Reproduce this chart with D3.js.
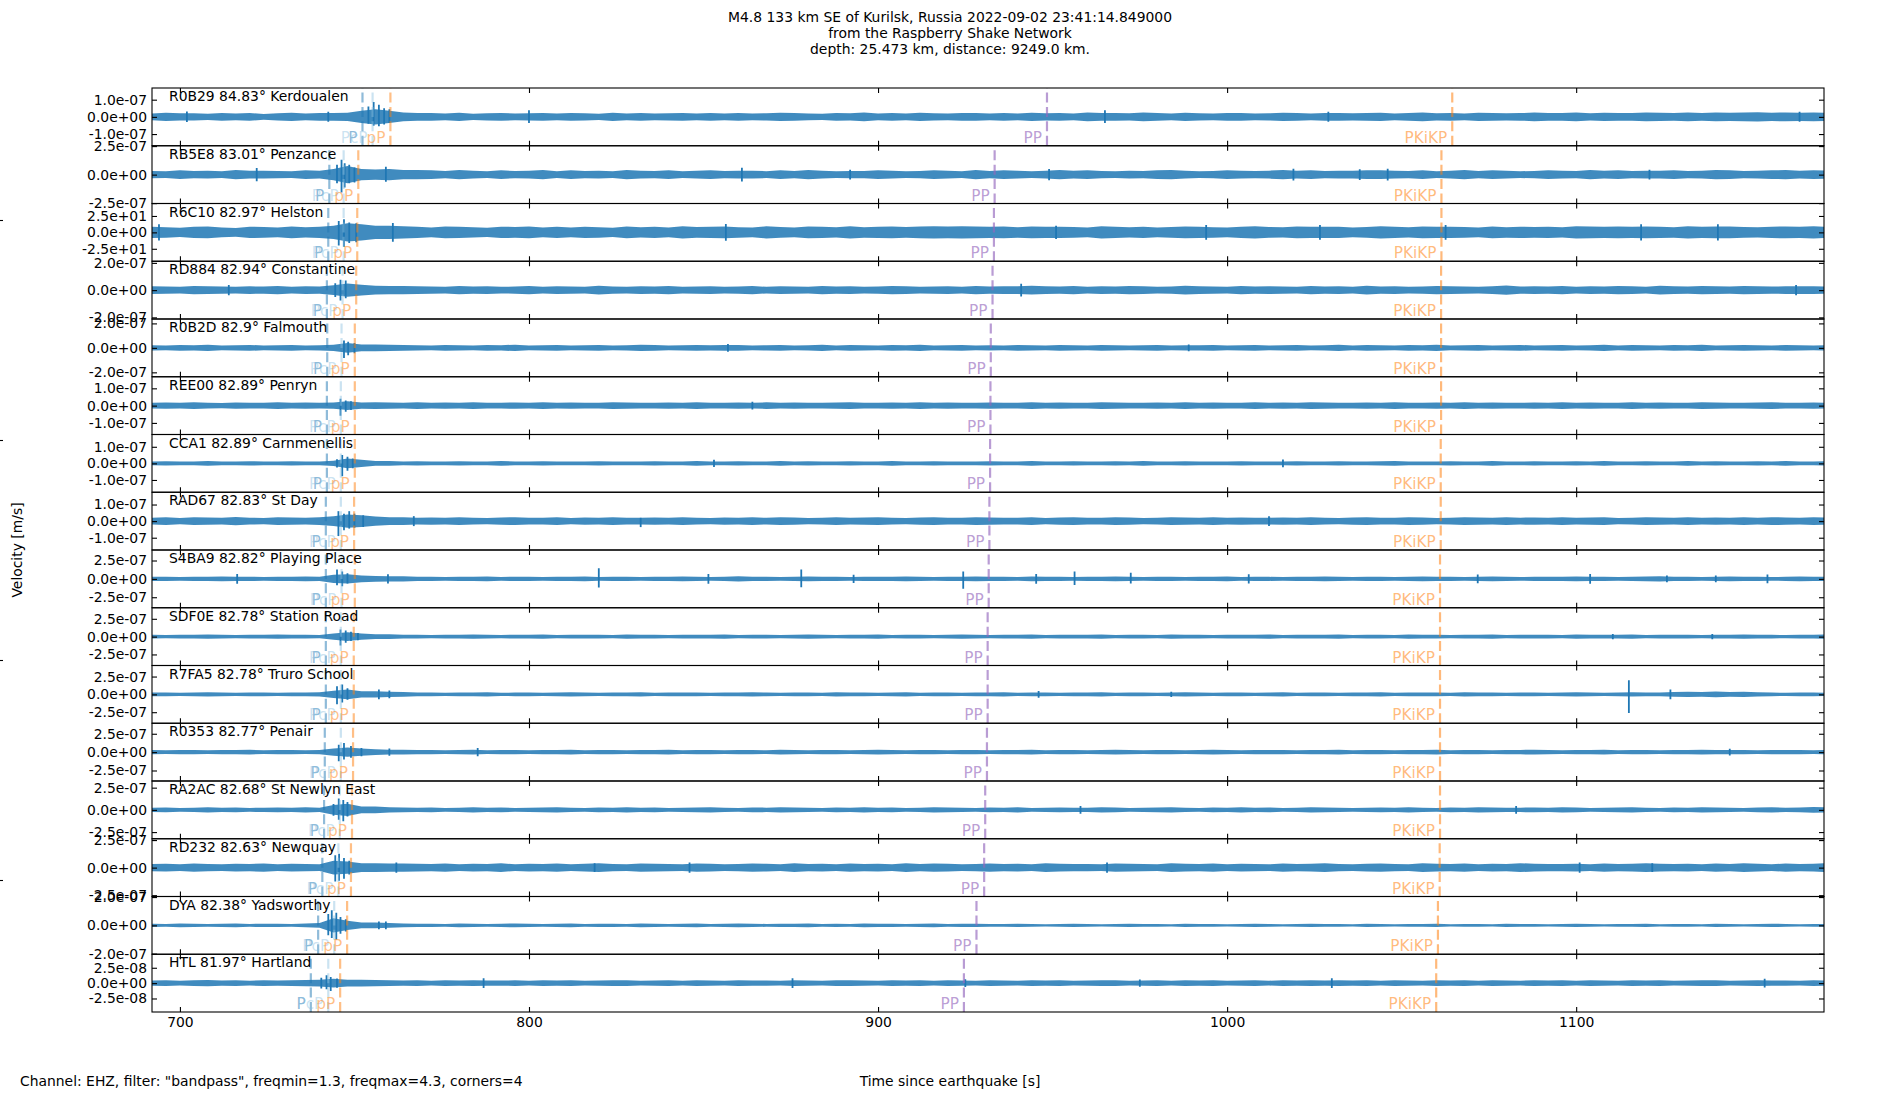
<!DOCTYPE html>
<html><head><meta charset="utf-8">
<script src="https://cdn.jsdelivr.net/npm/d3@7"></script>
<style>body{margin:0;background:#fff}svg{display:block}</style>
</head><body>
<svg id="chart" width="1900" height="1100"></svg>
<script>
// ---------------- DATA ----------------
const titleLines = [
  "M4.8 133 km SE of Kurilsk, Russia 2022-09-02 23:41:14.849000",
  "from the Raspberry Shake Network",
  "depth: 25.473 km, distance: 9249.0 km."
];
const xLabel = "Time since earthquake [s]";
const yLabel = "Velocity [m/s]";
const footNote = 'Channel: EHZ, filter: "bandpass", freqmin=1.3, freqmax=4.3, corners=4';
const xDomain = [692, 1171];
const xTicks = [700, 800, 900, 1000, 1100];

const stations = [
  "R0B29 84.83° Kerdoualen", "RB5E8 83.01° Penzance", "R6C10 82.97° Helston",
  "RD884 82.94° Constantine", "R0B2D 82.9° Falmouth", "REE00 82.89° Penryn",
  "CCA1 82.89° Carnmenellis", "RAD67 82.83° St Day", "S4BA9 82.82° Playing Place",
  "SDF0E 82.78° Station Road", "R7FA5 82.78° Truro School", "R0353 82.77° Penair",
  "RA2AC 82.68° St Newlyn East", "RD232 82.63° Newquay", "DYA 82.38° Yadsworthy",
  "HTL 81.97° Hartland"
];
// symmetric y-limit of each panel (data units)
const yLimits = [1.68e-7, 2.53e-7, 44, 2.12e-7, 2.36e-7, 1.67e-7, 1.74e-7, 1.74e-7,
                 3.93e-7, 4.05e-7, 4.05e-7, 3.93e-7, 3.25e-7, 2.62e-7, 2.04e-7, 4.7e-8];
// tick step of each panel (ticks at -step, 0, +step)
const tickSteps = [1e-7, 2.5e-7, 25, 2e-7, 2e-7, 1e-7, 1e-7, 1e-7,
                   2.5e-7, 2.5e-7, 2.5e-7, 2.5e-7, 2.5e-7, 2.5e-7, 2e-7, 2.5e-8];

// background noise envelopes: half-amplitude in hundredths of the panel tick step,
// one value every 4 s starting at 692 s
const binStart = 692, binStep = 4;
const amp01 = [
 20,24,21,21,18,22,19,23,17,21,24,19,22,22,24,35,45,35,25,22,
 22,19,24,18,21,23,20,21,22,19,23,21,18,24,20,22,19,21,23,20,
 22,20,23,19,21,24,22,20,18,23,21,25,20,22,19,24,21,20,23,22,
 20,23,19,24,21,22,20,26,22,23,21,25,22,20,24,21,19,23,22,20,
 21,24,22,20,22,23,21,22,24,20,23,25,21,22,20,24,23,21,22,25,
 23,22,25,21,24,22,23,26,24,22,25,23,26,24,25,27,24,26,24,25,24];
const amp02 = [
 13,12,15,13,14,12,16,14,14,13,12,15,14,20,30,20,18,20,16,16,
 15,13,16,14,12,15,13,14,16,12,15,13,14,12,16,14,13,15,12,14,
 15,13,14,14,12,15,13,16,14,12,13,13,15,14,12,13,15,14,12,16,
 13,15,14,12,14,16,14,15,13,12,14,13,15,16,14,12,13,15,14,13,
 14,16,14,15,13,14,14,15,15,14,13,15,12,14,16,13,15,14,12,13,
 15,14,13,16,14,15,13,14,14,15,13,14,16,15,13,14,15,16,14,15,14];
const amp03 = [
 34,32,28,35,36,30,26,34,33,29,36,31,34,40,55,50,40,40,38,34,
 30,36,34,31,28,35,33,36,30,34,29,35,32,28,36,31,34,30,38,33,
 35,36,32,29,37,33,30,36,34,31,38,32,35,36,33,36,38,36,38,36,
 34,36,32,36,35,34,33,30,37,34,31,35,29,33,36,34,32,30,34,37,
 33,31,36,35,34,34,30,33,37,35,31,36,34,35,33,30,36,32,35,33,
 34,31,37,36,35,36,35,36,34,32,38,35,36,36,33,31,35,36,34,37,33];
const amp04 = [
 14,13,12,15,14,13,12,14,13,15,12,14,13,18,24,20,16,15,15,14,
 13,12,15,13,14,12,13,15,12,14,13,12,16,13,12,14,13,15,12,13,
 14,12,13,15,12,14,13,12,15,13,14,12,13,15,14,12,13,14,12,15,
 13,14,14,16,14,13,15,12,14,13,15,14,12,13,16,14,13,12,15,13,
 14,13,12,15,13,14,12,16,13,14,12,13,15,14,13,12,14,17,13,14,
 13,15,12,14,13,15,14,12,16,14,13,15,14,13,15,14,13,14,14,14,13];
const amp05 = [
 11,10,12,11,13,10,11,12,10,11,12,10,11,13,20,14,14,13,12,11,
 10,12,11,10,12,11,13,10,11,12,10,11,12,10,11,13,12,10,11,12,
 11,12,12,10,11,12,10,11,13,10,12,11,10,12,11,13,10,11,12,10,
 11,10,12,11,10,12,11,10,12,11,10,11,12,10,11,11,12,10,11,12,
 10,11,12,10,11,13,10,12,11,10,12,11,13,10,11,12,10,11,12,10,
 11,12,10,11,13,10,12,11,10,12,11,13,10,11,12,11,10,12,11,10,11];
const amp06 = [
 17,18,16,19,17,15,18,17,16,19,17,18,16,18,25,18,20,18,17,19,
 16,18,17,19,16,17,18,16,19,17,18,16,17,19,18,16,17,18,16,19,
 17,16,18,17,19,16,18,17,16,18,19,17,16,18,17,19,16,18,17,16,
 18,17,16,19,17,18,16,17,19,18,16,17,18,16,19,17,18,16,17,19,
 16,18,17,19,18,16,17,18,16,19,17,16,18,17,19,16,18,17,16,18,
 17,19,16,18,17,16,19,17,18,16,17,19,18,16,17,18,19,17,16,18,17];
const amp07 = [
 12,13,11,12,14,12,11,13,12,11,13,12,11,16,30,22,15,14,12,13,
 11,12,13,11,12,14,12,11,13,12,11,12,13,12,11,12,13,11,12,14,
 12,11,13,12,11,14,12,13,11,12,13,11,12,14,12,11,13,12,11,12,
 13,11,12,14,12,11,13,12,11,13,12,14,11,12,13,12,11,12,13,11,
 12,12,13,11,12,13,12,11,13,14,12,11,12,13,11,12,14,12,11,13,
 12,11,13,12,14,11,12,13,12,11,14,12,13,11,12,13,12,14,11,12,13];
const amp08 = [
 21,23,19,24,22,20,25,21,19,23,22,20,24,30,40,35,28,24,24,21,
 22,20,23,21,19,22,24,20,21,23,19,22,20,24,21,21,22,20,23,21,
 19,22,21,23,20,24,22,19,21,23,20,22,24,21,19,22,23,20,21,24,
 22,20,21,23,19,22,24,21,20,23,22,19,21,24,22,20,23,21,22,20,
 21,22,21,23,20,19,22,24,21,20,23,22,19,21,24,22,20,23,21,22,
 20,23,21,22,24,19,21,23,22,20,24,21,22,20,23,21,24,22,20,23,22];
const amp09 = [
 11,12,10,11,12,13,11,12,10,12,11,13,12,22,25,18,16,14,14,12,
 11,10,12,11,13,10,12,11,10,12,11,13,10,11,12,10,11,12,13,11,
 10,12,14,11,12,10,11,13,12,11,10,12,11,12,13,11,10,12,11,13,
 11,12,10,13,11,12,10,11,12,13,11,10,12,11,10,12,11,13,10,12,
 11,10,12,11,13,12,10,11,12,10,11,13,12,11,10,12,13,11,10,12,
 11,12,13,11,12,10,11,13,14,12,11,10,12,13,11,12,10,11,13,12,11];
const amp10 = [
 10,9,11,10,12,10,9,11,10,12,10,11,9,18,25,18,14,14,11,10,
 9,11,10,12,10,9,11,10,12,9,10,11,10,9,12,10,11,9,10,11,
 10,12,9,11,10,9,11,12,10,9,11,10,12,9,10,11,9,10,12,10,
 9,11,10,12,9,10,11,10,12,9,11,10,9,12,10,11,9,10,11,10,
 12,9,10,11,10,12,9,11,10,9,12,10,11,9,10,11,12,9,10,11,
 10,9,12,10,11,10,12,9,11,11,10,9,11,10,12,11,10,9,11,10,12];
const amp11 = [
 10,11,9,10,12,10,9,11,10,9,11,10,12,20,28,18,18,15,13,11,
 10,9,11,10,12,9,10,11,9,10,12,10,9,11,10,12,9,10,11,10,
 9,11,10,12,10,9,11,10,9,12,10,11,9,10,12,9,11,10,9,11,
 10,12,9,10,10,9,11,10,12,9,10,11,9,10,12,11,9,10,11,9,
 10,12,9,11,10,9,11,10,12,9,10,11,10,9,12,10,11,9,10,11,
 9,10,12,11,9,10,12,10,10,14,15,14,16,13,15,12,10,9,11,10,9];
const amp12 = [
 11,10,12,11,10,12,11,13,10,11,12,10,11,20,25,20,15,13,13,11,
 12,10,11,13,10,12,11,10,12,11,13,10,12,11,10,12,11,13,10,11,
 12,10,11,12,10,13,11,10,12,11,10,12,13,11,10,12,11,10,12,11,
 10,12,11,13,10,11,12,10,11,13,12,10,11,12,10,11,13,12,10,11,
 12,11,10,12,11,13,10,12,11,10,12,11,13,10,11,12,10,11,12,13,
 11,10,12,11,13,10,11,12,10,11,12,13,11,11,12,10,11,12,11,10,12];
const amp13 = [
 10,11,9,10,12,10,11,9,10,11,10,12,10,22,28,15,15,12,11,10,
 11,9,10,12,10,11,9,10,11,12,10,9,11,10,12,10,11,9,10,11,
 12,10,9,11,10,12,11,10,9,11,10,12,10,11,9,10,12,11,10,9,
 11,10,12,9,10,11,10,10,12,11,9,10,11,12,10,9,11,10,12,10,
 11,9,10,12,11,10,9,10,11,10,12,10,9,11,10,12,11,10,10,11,
 10,12,11,9,10,11,12,10,9,11,10,12,11,10,9,11,12,10,11,13,12];
const amp14 = [
 13,14,12,15,13,12,14,13,15,12,14,13,12,25,22,16,16,15,15,14,
 13,15,12,14,13,16,12,14,13,15,12,14,16,13,12,15,14,13,12,15,
 14,12,13,15,14,12,16,13,14,12,15,13,14,12,16,13,15,14,12,13,
 15,13,14,12,16,14,13,13,12,15,14,13,12,16,14,13,15,12,14,13,
 12,15,13,14,16,13,12,14,15,13,12,16,14,13,15,12,14,13,16,14,
 13,13,14,12,15,13,14,16,14,13,14,12,15,13,16,14,12,15,13,14,16];
const amp15 = [
 6,5,7,6,5,6,7,5,6,6,5,7,8,25,16,10,10,8,7,6,
 6,5,7,6,5,6,7,6,5,6,7,5,6,6,5,7,6,5,6,7,
 5,6,7,6,5,6,6,7,5,6,5,7,6,6,5,6,7,5,6,6,
 5,5,6,5,4,5,6,5,4,5,6,5,5,4,6,5,5,4,5,6,
 5,4,5,6,5,5,4,6,5,4,5,5,6,4,5,5,4,6,5,5,
 4,5,6,5,4,5,5,6,4,5,5,4,6,5,4,5,6,5,4,5,5];
const amp16 = [
 17,18,16,19,21,17,18,16,19,17,18,20,22,28,22,22,20,18,17,19,
 16,18,17,19,17,17,18,16,19,17,18,16,17,19,18,16,17,18,16,19,
 17,16,18,17,17,16,18,17,16,18,19,17,16,18,17,19,16,18,17,16,
 18,17,16,19,17,18,16,17,19,18,16,17,18,16,19,17,18,16,17,19,
 16,18,17,19,17,18,17,18,16,19,17,16,18,17,19,16,18,17,16,18,
 17,19,16,18,17,16,19,17,18,16,17,19,18,16,17,18,17,17,16,18,17];
const amplitudes = [amp01, amp02, amp03, amp04, amp05, amp06, amp07, amp08,
                    amp09, amp10, amp11, amp12, amp13, amp14, amp15, amp16];

// peaks: [time s, up, down] in hundredths of tick step
const spikes01 = [[702,32,30],[742.5,30,28],[754,60,40],[755.5,87,52],[757,70,55],[758.5,50,45],
                  [760,45,35],[800,39,35],[965,39,35],[1029,30,28],[1164,30,28]];
const spikes02 = [[722,23,23],[745,35,30],[746.3,52,63],[747.2,40,45],[748.5,35,30],[750,25,28],
                  [759,28,25],[861,24,24],[892,17,17],[949,20,20],[1019,21,21],[1038,19,19],
                  [1046,21,21],[1121,17,17]];
const spikes03 = [[694,50,50],[745.5,70,80],[747,80,88],[748.5,60,65],[750.5,55,60],[761,57,57],
                  [856.4,51,51],[951,40,40],[994,45,45],[1026.6,45,45],[1062.6,45,45],
                  [1118.6,50,50],[1140.6,50,50]];
const spikes04 = [[714,19,19],[744.5,25,25],[746,38,38],[747.5,35,30],[941,23,23],[1163,19,19]];
const spikes05 = [[747,30,41],[748.2,25,30],[750,20,22],[857,16,16],[989,14,14]];
const spikes06 = [[746,40,58],[747.5,30,35],[749,25,25],[864,23,23]];
const spikes07 = [[745,25,25],[746.5,50,78],[748,40,45],[749.5,30,30],[853,22,22],[1016,24,24]];
const spikes08 = [[745.4,60,90],[747,45,55],[748.5,60,45],[750,45,40],[752.5,35,35],[767,30,30],
                  [832,20,36],[1012,30,30]];
const spikes09 = [[716.4,27,27],[745,51,35],[746.5,40,40],[748,30,25],[759.6,25,25],[820,58,47],
                  [851.4,27,27],[878,51,45],[893,22,22],[924.4,40,54],[945.3,27,27],[956.3,40,33],
                  [972.4,33,25],[1006.2,25,25],[1071.8,24,24],[1104,27,27],[1126,18,18],
                  [1140,18,18],[1154.8,24,24]];
const spikes10 = [[746,40,50],[747.5,35,35],[749,28,25],[751,20,20],[1110.5,15,15],[1139,15,15]];
const spikes11 = [[745,45,56],[746.5,56,45],[748,35,30],[757,28,28],[760,22,22],[946,19,19],
                  [984,15,15],[1115.1,79,105],[1127,28,28]];
const spikes12 = [[745.5,40,49],[747,49,40],[749,33,30],[752,22,22],[760,20,20],[785.3,22,22],
                  [1144,18,18]];
const spikes13 = [[744,26,26],[745.5,51,45],[746.8,45,51],[748,35,30],[958,18,18],[1082.8,18,18]];
const spikes14 = [[744.5,45,50],[745.6,50,48],[747,35,40],[748.5,25,25],[762,19,19],[818.8,16,16],
                  [846,19,19],[965.6,19,19],[1101,19,19],[1121.8,16,16]];
const spikes15 = [[742.5,40,35],[743.5,53,45],[744.8,45,50],[746,30,30],[747.5,22,22],
                  [757,14,14],[759,14,14]];
const spikes16 = [[740.5,35,35],[742,52,40],[743.2,40,52],[745,30,30],[787,32,32],[875.5,32,32],
                  [925,26,26],[975,24,24],[1030,32,32],[1154,28,28]];
const spikes = [spikes01, spikes02, spikes03, spikes04, spikes05, spikes06, spikes07, spikes08,
                spikes09, spikes10, spikes11, spikes12, spikes13, spikes14, spikes15, spikes16];

// phase arrival times per panel (s)
const phaseNames = ["P", "PcP", "pP", "PP", "PKiKP"];
const timesP     = [752.3,742.8,742.5,742.1,742.2,742.1,742.1,741.8,741.8,741.8,741.8,741.5,741.3,740.8,739.6,737.5];
const timesPcP   = [755.2,746.9,746.9,746.6,746.3,746.1,746.1,746.1,746.3,746.1,746.1,746.1,745.8,745.4,744.2,742.5];
const timespP    = [760.3,751.1,750.8,750.5,750.1,750.1,750.1,749.9,750.1,749.8,749.8,749.6,749.3,749.0,747.9,745.9];
const timesPP    = [948.4,933.4,933.2,932.8,932.3,932.2,932.1,931.9,931.7,931.4,931.4,931.2,930.7,930.4,928.2,924.6];
const timesPKiKP = [1064.5,1061.4,1061.4,1061.3,1061.3,1061.3,1061.2,1061.2,1061.0,1061.0,1061.0,1061.0,1061.0,1060.9,1060.4,1059.9];
const phaseTimes = [timesP, timesPcP, timespP, timesPP, timesPKiKP];

// ---------------- STYLE / LAYOUT ----------------
const FONT = "DejaVu Sans";
const W = 1900, H = 1100;
const L = 152, R = 1824, T = 88, B = 1012;
const nP = stations.length;
const pH = (B - T) / nP;
const traceColor = "#1f77b4";
const phaseStyle = {
  "P":     {c: "#1f77b4", o: 0.5},
  "PcP":   {c: "#8cc0e0", o: 0.45},
  "pP":    {c: "#ff7f0e", o: 0.5},
  "PP":    {c: "#9467bd", o: 0.65},
  "PKiKP": {c: "#ff7f0e", o: 0.55}
};

const svg = d3.select("#chart");
svg.append("rect").attr("width", W).attr("height", H).attr("fill", "#fff");

const x = d3.scaleLinear().domain(xDomain).range([L, R]);

function sciFmt(v) {
  const s = (+v).toExponential(1);
  const [m, e] = s.split("e");
  return m + "e" + e[0] + e.slice(1).padStart(2, "0");
}
function styleAxis(g) {
  g.select(".domain").remove();
  g.attr("font-family", FONT).attr("font-size", 13.9);
  g.selectAll(".tick line").attr("stroke", "#000").attr("stroke-width", 1.1);
  g.selectAll(".tick text").attr("fill", "#000");
}

const defs = svg.append("defs");

for (let p = 0; p < nP; p++) {
  const top = T + p * pH, bot = top + pH;
  const lim = yLimits[p], step = tickSteps[p];
  const y = d3.scaleLinear().domain([-lim, lim]).range([bot, top]);
  const g = svg.append("g");

  defs.append("clipPath").attr("id", "clip" + p)
    .append("rect").attr("x", L).attr("y", top).attr("width", R - L).attr("height", pH);
  const cg = g.append("g").attr("clip-path", `url(#clip${p})`);

  const area = d3.area()
    .x((d, i) => x(binStart + i * binStep))
    .y0(d => y(-d / 100 * step))
    .y1(d => y(d / 100 * step));
  cg.append("path").datum(amplitudes[p]).attr("d", area)
    .attr("fill", traceColor).attr("fill-opacity", 0.85);

  cg.selectAll("line.spike").data(spikes[p]).enter().append("line").attr("class", "spike")
    .attr("x1", d => x(d[0])).attr("x2", d => x(d[0]))
    .attr("y1", d => y(d[1] / 100 * step)).attr("y2", d => y(-d[2] / 100 * step))
    .attr("stroke", traceColor).attr("stroke-width", 1.8);

  // phase lines and labels
  phaseNames.forEach((name, k) => {
    const t = phaseTimes[k][p];
    const st = phaseStyle[name];
    cg.append("line").attr("x1", x(t)).attr("x2", x(t)).attr("y1", bot).attr("y2", top)
      .attr("stroke", st.c).attr("stroke-opacity", st.o).attr("stroke-width", 2.2)
      .attr("stroke-dasharray", "10,4.4");
    g.append("text").attr("x", x(t) - 5).attr("y", bot - 3)
      .attr("text-anchor", "end").attr("font-family", FONT).attr("font-size", 15.3)
      .attr("fill", st.c).attr("fill-opacity", st.o).text(name);
  });

  // station label
  g.append("text").attr("x", L + 17).attr("y", top + 13)
    .attr("font-family", FONT).attr("font-size", 13.9).attr("fill", "#000").text(stations[p]);

  // frame
  g.append("rect").attr("x", L).attr("y", top).attr("width", R - L).attr("height", pH)
    .attr("fill", "none").attr("stroke", "#000").attr("stroke-width", 1.1);

  // axes
  const yt = [step, 0, -step];
  const ay = g.append("g").attr("transform", `translate(${L},0)`)
    .call(d3.axisLeft(y).tickValues(yt).tickSize(-5).tickPadding(5).tickFormat(sciFmt));
  styleAxis(ay);
  const ayr = g.append("g").attr("transform", `translate(${R},0)`)
    .call(d3.axisRight(y).tickValues(yt).tickSize(-5).tickFormat(""));
  styleAxis(ayr);
  const axt = g.append("g").attr("transform", `translate(0,${top})`)
    .call(d3.axisTop(x).tickValues(xTicks).tickSize(-5).tickFormat(""));
  styleAxis(axt);
  const axb = g.append("g").attr("transform", `translate(0,${bot})`)
    .call(d3.axisBottom(x).tickValues(xTicks).tickSize(-5).tickPadding(5)
      .tickFormat(p === nP - 1 ? d3.format("d") : ""));
  styleAxis(axb);
}

// hidden full-figure axis ticks at left edge
const yFig = d3.scaleLinear().domain([0, 1]).range([H, 0]);
const af = svg.append("g").attr("transform", "translate(0,0)")
  .call(d3.axisRight(yFig).tickValues([0.2, 0.4, 0.6, 0.8]).tickSize(3).tickFormat(""));
styleAxis(af);

// titles and labels
svg.append("g").selectAll("text").data(titleLines).enter().append("text")
  .attr("x", W / 2).attr("y", (d, i) => 21.5 + i * 16.3)
  .attr("text-anchor", "middle").attr("font-family", FONT).attr("font-size", 13.9)
  .attr("fill", "#000").text(d => d);

svg.append("text").attr("x", W / 2).attr("y", 1086).attr("text-anchor", "middle")
  .attr("font-family", FONT).attr("font-size", 13.9).attr("fill", "#000").text(xLabel);
svg.append("text").attr("x", 20).attr("y", 1086)
  .attr("font-family", FONT).attr("font-size", 13.9).attr("fill", "#000").text(footNote);
svg.append("text").attr("transform", "translate(22,550) rotate(-90)").attr("text-anchor", "middle")
  .attr("font-family", FONT).attr("font-size", 13.9).attr("fill", "#000").text(yLabel);
</script>
</body></html>
